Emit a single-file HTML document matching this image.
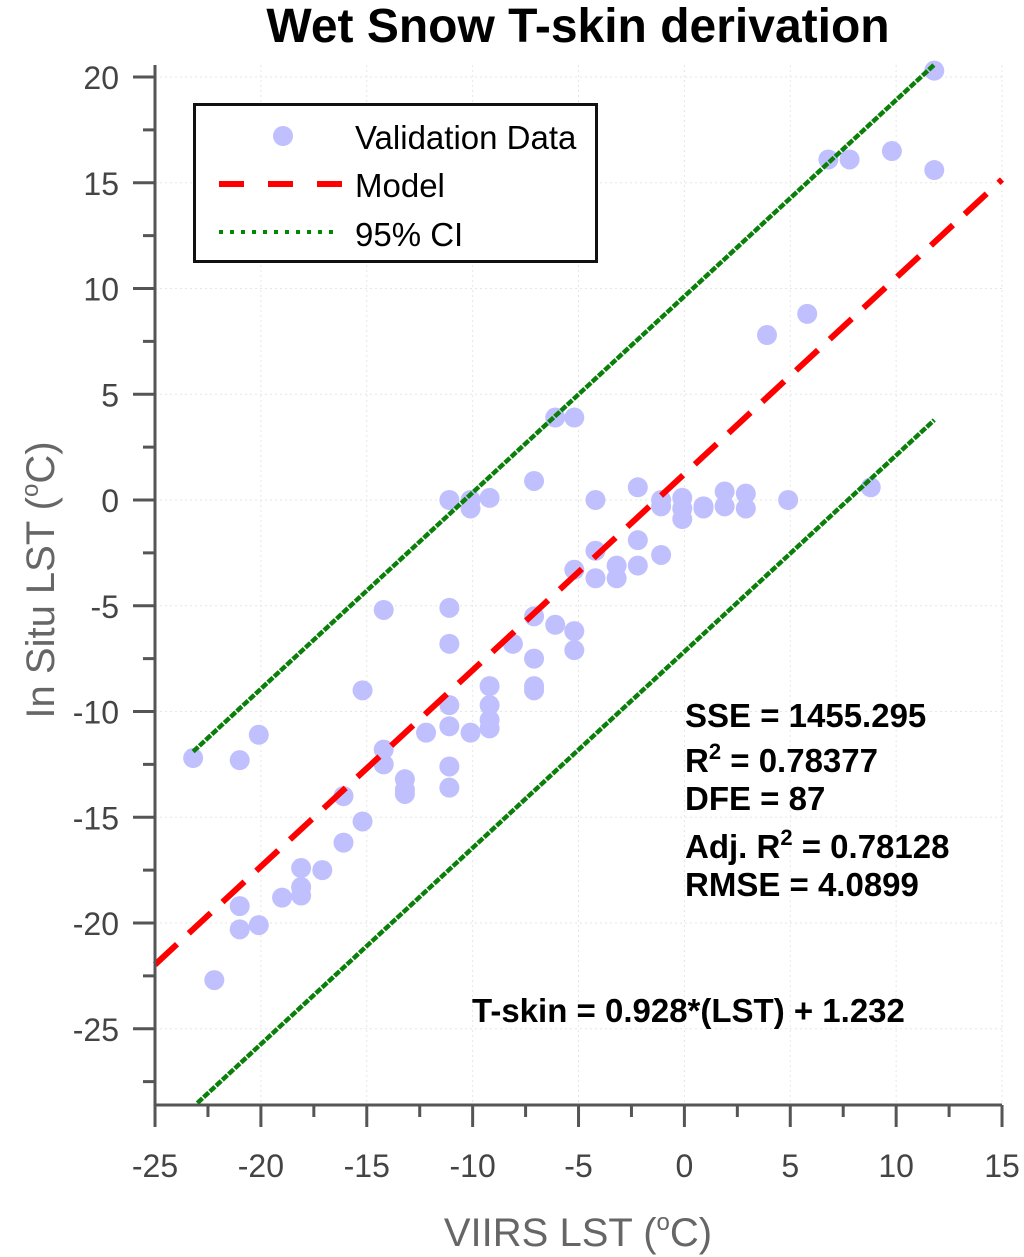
<!DOCTYPE html>
<html><head><meta charset="utf-8"><style>
body{margin:0;background:#fff}
svg{display:block;font-family:"Liberation Sans",Arial,sans-serif}
</style></head><body>
<svg id="chart" width="1024" height="1257" viewBox="0 0 1024 1257">
<text x="578" y="42" text-anchor="middle" font-size="48" font-weight="bold">Wet Snow T-skin derivation</text>
<g id="grid"></g>
<g id="series"></g>
<g id="axes"></g>
<text x="578" y="1246" text-anchor="middle" font-size="40" fill="#666">VIIRS LST (<tspan dy="-16" font-size="24">o</tspan><tspan dy="16">C)</tspan></text>
<text transform="translate(54,580) rotate(-90)" text-anchor="middle" font-size="40" fill="#666">In Situ LST (<tspan dy="-16" font-size="24">o</tspan><tspan dy="16">C)</tspan></text>
<g>
<rect x="194.5" y="104.5" width="402" height="157" fill="#fff" stroke="#111" stroke-width="3"/>
<circle cx="283" cy="136" r="10" fill="#c0c0ff"/>
<text x="355" y="149" font-size="33">Validation Data</text>
<line x1="219" y1="184" x2="343" y2="184" stroke="#f00" stroke-width="6" stroke-dasharray="25,24"/>
<text x="355" y="197" font-size="33">Model</text>
<line x1="219" y1="232" x2="333" y2="232" stroke="#080" stroke-width="4" stroke-dasharray="4,7"/>
<text x="355" y="246" font-size="33">95% CI</text>
</g>
<g font-size="33" font-weight="bold">
<text x="685" y="727">SSE = 1455.295</text>
<text x="685" y="772">R<tspan dy="-13" font-size="22">2</tspan><tspan dy="13"> = 0.78377</tspan></text>
<text x="685" y="810">DFE = 87</text>
<text x="685" y="858">Adj. R<tspan dy="-13" font-size="22">2</tspan><tspan dy="13"> = 0.78128</tspan></text>
<text x="685" y="896">RMSE = 4.0899</text>
<text x="472" y="1022">T-skin = 0.928*(LST) + 1.232</text>
</g>
</svg>
<script>
const xVals=[-23.2,-21,-20.1,-22.2,-21,-21,-20.1,-19,-18.1,-18.1,-18.1,-17.1,-16.1,-16.1,-15.2,-15.2,-14.2,-14.2,-14.2,-13.2,-13.2,-13.2,-12.2,-11.1,-11.1,-11.1,-11.1,-11.1,-11.1,-11.1,-10.1,-10.1,-10.1,-9.2,-9.2,-9.2,-9.2,-9.2,-8.1,-7.1,-7.1,-7.1,-7.1,-7.1,-6.1,-6.1,-5.2,-5.2,-5.2,-5.2,-4.2,-4.2,-4.2,-3.2,-3.2,-2.2,-2.2,-2.2,-1.1,-1.1,-1.1,-0.1,-0.1,-0.1,0.9,0.9,1.9,1.9,2.9,2.9,4.9,3.9,5.8,6.8,7.8,8.8,9.8,11.8,11.8];
const yVals=[-12.2,-12.3,-11.1,-22.7,-19.2,-20.3,-20.1,-18.8,-17.4,-18.3,-18.7,-17.5,-14,-16.2,-9,-15.2,-5.2,-11.8,-12.5,-13.2,-13.7,-13.9,-11,0,-5.1,-6.8,-9.7,-10.7,-12.6,-13.6,0,-0.4,-11,0.1,-8.8,-9.7,-10.4,-10.8,-6.8,0.9,-5.5,-7.5,-8.8,-9,3.9,-5.9,3.9,-3.3,-6.2,-7.1,0,-2.4,-3.7,-3.1,-3.7,0.6,-1.9,-3.1,0,-0.3,-2.6,0.1,-0.4,-0.9,-0.3,-0.4,0.4,-0.3,0.3,-0.4,0,7.8,8.8,16.1,16.1,0.6,16.5,15.6,20.3];
const fitSlope=[0.928], fitIntercept=[1.232], ciHalfWidth=[8.4];
const xTicks=[-25,-20,-15,-10,-5,0,5,10,15];
const yTicks=[20,15,10,5,0,-5,-10,-15,-20,-25];
const xMinorTicks=[-22.5,-17.5,-12.5,-7.5,-2.5,2.5,7.5,12.5];
const yMinorTicks=[17.5,12.5,7.5,2.5,-2.5,-7.5,-12.5,-17.5,-22.5,-27.5];
const ciRange=[-23.2,11.8];

const X=v=>684.4+v*21.175, Y=v=>500-v*21.15;
const NS='http://www.w3.org/2000/svg';
function mk(p,t,a){const e=document.createElementNS(NS,t);for(const k in a)e.setAttribute(k,a[k]);p.appendChild(e);return e;}
const grid=document.getElementById('grid'),ser=document.getElementById('series'),ax=document.getElementById('axes');
xTicks.slice(1).forEach(v=>{const l=mk(grid,'line',{x1:X(v),x2:X(v),y1:65,y2:1105,stroke:'#e6e6e6','stroke-width':1,'stroke-dasharray':'2,3'});

});
yTicks.forEach(v=>{const l=mk(grid,'line',{x1:155,x2:1002,y1:Y(v),y2:Y(v),stroke:'#e6e6e6','stroke-width':1,'stroke-dasharray':'2,3'});

});
xVals.forEach((x,i)=>{const c=mk(ser,'circle',{cx:X(x),cy:Y(yVals[i]),r:10,fill:'#c0c0ff'});

});
const m=fitSlope[0],b=fitIntercept[0],h=ciHalfWidth[0];
const up=mk(ser,'line',{x1:X(ciRange[0]),y1:Y(m*ciRange[0]+b+h),x2:X(ciRange[1]),y2:Y(m*ciRange[1]+b+h),stroke:'#0a800a','stroke-width':4.5,'stroke-dasharray':'7,1.5'});


const x0=-23,lo=mk(ser,'line',{x1:X(x0),y1:Y(m*x0+b-h),x2:X(ciRange[1]),y2:Y(m*ciRange[1]+b-h),stroke:'#0a800a','stroke-width':4.5,'stroke-dasharray':'7,1.5'});


const md=mk(ser,'line',{x1:X(-25),y1:Y(m*-25+b),x2:X(15),y2:Y(m*15+b),stroke:'#f00','stroke-width':6,'stroke-dasharray':'30,16'});


const ys=mk(ax,'line',{x1:155,x2:155,y1:65,y2:1106.5,stroke:'#555','stroke-width':3});


const xs=mk(ax,'line',{x1:153.5,x2:1002,y1:1105,y2:1105,stroke:'#555','stroke-width':3});


xTicks.forEach(v=>{const t=mk(ax,'line',{x1:X(v),x2:X(v),y1:1105,y2:1127,stroke:'#555','stroke-width':3});


const l=mk(ax,'text',{x:X(v),y:1177,'text-anchor':'middle','font-size':32,fill:'#444'});l.textContent=v;

});
xMinorTicks.forEach(v=>{const t=mk(ax,'line',{x1:X(v),x2:X(v),y1:1105,y2:1117,stroke:'#555','stroke-width':3});

});
yTicks.forEach(v=>{const t=mk(ax,'line',{x1:133,x2:155,y1:Y(v),y2:Y(v),stroke:'#555','stroke-width':3});


const l=mk(ax,'text',{x:119,y:Y(v)+12,'text-anchor':'end','font-size':32,fill:'#444'});l.textContent=v;

});
yMinorTicks.forEach(v=>{const t=mk(ax,'line',{x1:143,x2:155,y1:Y(v),y2:Y(v),stroke:'#555','stroke-width':3});

});
</script>
</body></html>
